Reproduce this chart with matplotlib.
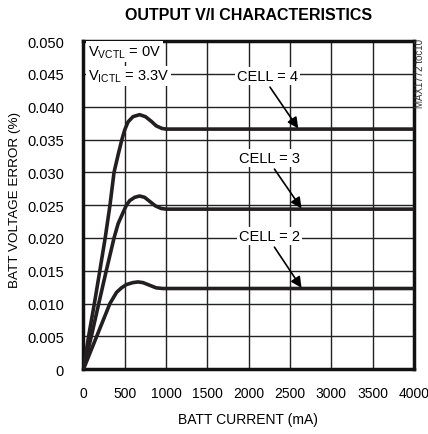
import matplotlib
matplotlib.use("Agg")
import matplotlib.pyplot as plt

plt.rcParams['font.family'] = ['Liberation Sans', 'DejaVu Sans']
plt.rcParams['mathtext.fontset'] = 'custom'
plt.rcParams['mathtext.rm'] = 'Liberation Sans'
plt.rcParams['mathtext.default'] = 'regular'

# Kurven (mA, %)
cell4_x = [0, 62, 132, 198, 263, 321, 370, 420, 465, 500, 540, 600, 680, 750, 820, 880, 950, 1000, 4000]
cell4_y = [0, 0.005, 0.010, 0.015, 0.020, 0.025, 0.030, 0.0327, 0.035, 0.0365, 0.0377, 0.0385, 0.0388,
           0.0385, 0.0378, 0.0371, 0.0367, 0.0366, 0.0366]
cell3_x = [0, 95, 185, 276, 370, 420, 473, 520, 560, 620, 680, 740, 800, 870, 940, 1000, 4000]
cell3_y = [0, 0.005, 0.010, 0.015, 0.020, 0.0222, 0.0237, 0.0250, 0.0257, 0.0262, 0.0264, 0.0262,
           0.0256, 0.0249, 0.0245, 0.0244, 0.0244]
cell2_x = [0, 80, 160, 240, 320, 400, 460, 520, 600, 660, 720, 800, 880, 960, 1000, 4000]
cell2_y = [0, 0.0025, 0.005, 0.0075, 0.0100, 0.0117, 0.0124, 0.0129, 0.0132, 0.0133, 0.0132,
           0.0128, 0.0124, 0.0123, 0.0123, 0.0123]

x_ticks = [0, 500, 1000, 1500, 2000, 2500, 3000, 3500, 4000]
y_ticks = [0, 0.005, 0.010, 0.015, 0.020, 0.025, 0.030, 0.035, 0.040, 0.045, 0.050]
y_labels = ['0', '0.005', '0.010', '0.015', '0.020', '0.025', '0.030', '0.035', '0.040', '0.045', '0.050']

fig = plt.figure(figsize=(4.28, 4.35), dpi=100)
ax = fig.add_axes([0.195, 0.149, 0.772, 0.754])

for v in x_ticks[1:-1]:
    ax.axvline(v, color='#222222', lw=1.0, zorder=1)
for v in y_ticks[1:-1]:
    ax.axhline(v, color='#222222', lw=1.0, zorder=1)

for xs, ys in [(cell4_x, cell4_y), (cell3_x, cell3_y), (cell2_x, cell2_y)]:
    ax.plot(xs, ys, color='#231f20', lw=2.6, zorder=3, solid_capstyle='butt')

ax.set_xlim(0, 4000)
ax.set_ylim(0, 0.050)
ax.set_xticks(x_ticks)
ax.set_yticks(y_ticks)
ax.set_yticklabels(y_labels)
ax.tick_params(length=0, labelsize=10.5)
ax.tick_params(axis='x', pad=12, labelsize=10)
ax.tick_params(axis='y', pad=14)
for s in ax.spines.values():
    s.set_linewidth(2.5)
    s.set_color('#111111')

box = dict(facecolor='white', edgecolor='none', pad=1.5)
ax.text(55, 0.0484, r'V$_{VCTL}$ = 0V', fontsize=10.5, ha='left', va='center', bbox=box, zorder=4)
ax.text(55, 0.0447, r'V$_{ICTL}$ = 3.3V', fontsize=10.5, ha='left', va='center', bbox=box, zorder=4)

labels = [('CELL = 4', 2230, 0.0447, 2258, 0.0430, 2600, 0.0367),
          ('CELL = 3', 2250, 0.0322, 2312, 0.0305, 2640, 0.0245),
          ('CELL = 2', 2250, 0.0203, 2312, 0.0186, 2640, 0.0124)]
for txt, tx, ty, sx, sy, ex, ey in labels:
    ax.text(tx, ty, txt, fontsize=10.5, ha='center', va='center', bbox=box, zorder=4)
    ax.annotate('', xy=(ex, ey), xytext=(sx, sy), zorder=5,
                arrowprops=dict(arrowstyle='-|>', color='black', lw=1.2, mutation_scale=16,
                                shrinkA=0, shrinkB=0))

fig.text(0.58, 0.965, 'OUTPUT V/I CHARACTERISTICS', fontsize=11.5, fontweight='bold',
         ha='center', va='center')
fig.text(0.579, 0.035, 'BATT CURRENT (mA)', fontsize=10, ha='center', va='center')
fig.text(0.035, 0.54, 'BATT VOLTAGE ERROR (%)', fontsize=9.7, ha='center', va='center', rotation=90)
fig.text(0.981, 0.832, 'MAX1772 toc10', fontsize=7, rotation=90, ha='center', va='center',
         color='#333333')

fig.savefig('out.png', dpi=100)
